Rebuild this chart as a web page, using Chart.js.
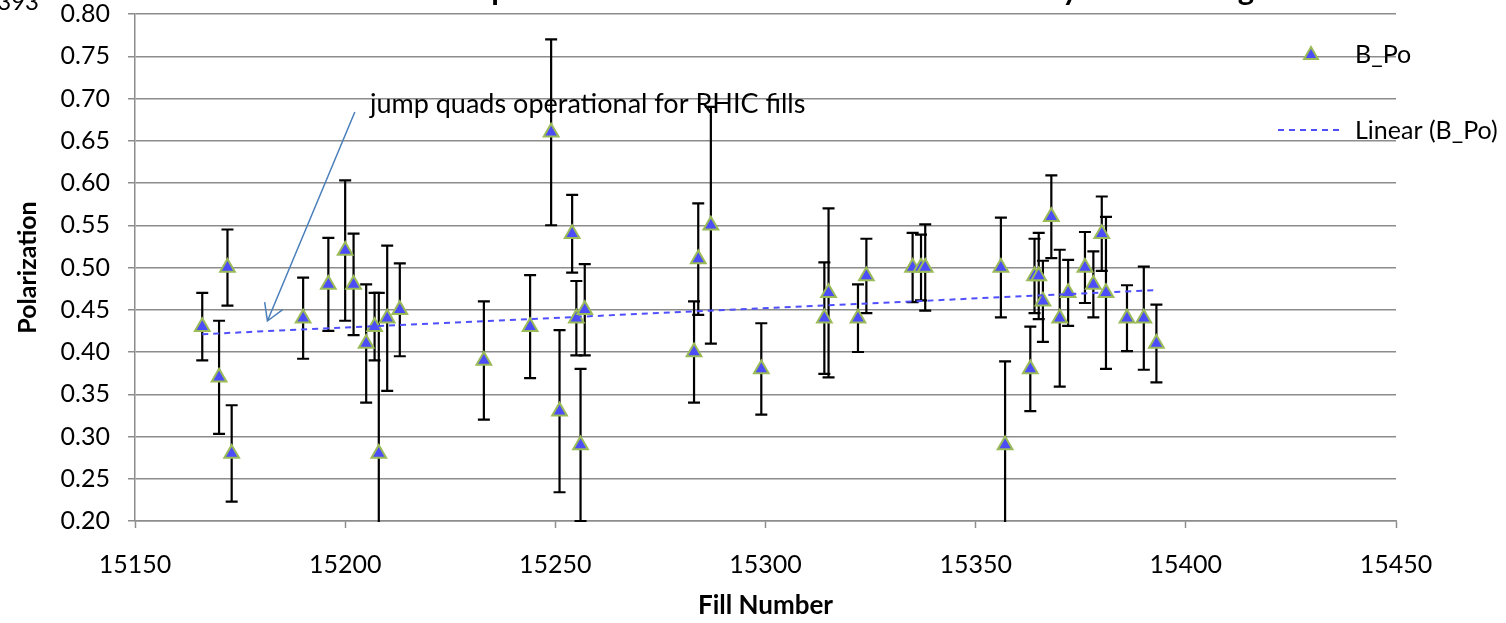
<!DOCTYPE html>
<html>
<head>
<meta charset="utf-8">
<script src="https://cdn.jsdelivr.net/npm/chart.js@4.4.1/dist/chart.umd.min.js"></script>
<style>
html, body { margin: 0; padding: 0; background: #fff; overflow: hidden; }
#wrap { position: absolute; left: 0; top: -50px; width: 1506px; height: 673px; }
</style>
</head>
<body>
<div id="wrap"><canvas id="polChart"></canvas></div>
<script>
// fill numbers and measured polarization (B_Po) with error
var fills = [15166, 15170, 15172, 15173, 15190, 15196, 15200, 15202, 15205, 15207,
             15208, 15210, 15213, 15233, 15244, 15249, 15251, 15254, 15255, 15256,
             15257, 15283, 15284, 15287, 15299, 15314, 15315, 15322, 15324, 15335,
             15337, 15338, 15356, 15357, 15363, 15364, 15365, 15366, 15368, 15370,
             15372, 15376, 15378, 15380, 15381, 15386, 15390, 15393];
var pol = [0.43, 0.37, 0.50, 0.28, 0.44, 0.48, 0.52, 0.48, 0.41, 0.43,
           0.28, 0.44, 0.45, 0.39, 0.43, 0.66, 0.33, 0.54, 0.44, 0.29,
           0.45, 0.40, 0.51, 0.55, 0.38, 0.44, 0.47, 0.44, 0.49, 0.50,
           0.50, 0.50, 0.50, 0.29, 0.38, 0.49, 0.49, 0.46, 0.56, 0.44,
           0.47, 0.50, 0.48, 0.54, 0.47, 0.44, 0.44, 0.41];
var polErr = [0.040, 0.067, 0.045, 0.057, 0.048, 0.055, 0.083, 0.060, 0.070, 0.040,
              0.190, 0.086, 0.055, 0.070, 0.061, 0.110, 0.096, 0.046, 0.044, 0.090,
              0.054, 0.060, 0.066, 0.140, 0.054, 0.066, 0.100, 0.040, 0.044, 0.041,
              0.039, 0.051, 0.059, 0.099, 0.050, 0.044, 0.051, 0.048, 0.049, 0.081,
              0.039, 0.042, 0.039, 0.044, 0.090, 0.039, 0.061, 0.046];

var seriesName = 'B_Po';
var trendName = 'Linear (B_Po)';
var xMin = 15150, xMax = 15450, xStep = 50;
var yMin = 0.20, yMax = 0.80, yStep = 0.05;
var titleHead = 'Blue AGS Extraction ';
var titleTail = 'polarization vs RHIC Fill Number sorted by Start Timing';
var cornerText = '15166-15393';
var noteText = 'jump quads operational for RHIC fills';
// arrow and note, in data units
var noteAt = { x: 15205.9, y: 0.6825 };
var arrowFrom = { x: 15202.3, y: 0.684 };
var arrowTo = { x: 15181.5, y: 0.4367 };

// least squares line, like the excel trendline
var n = fills.length, sx = 0, sy = 0, sxx = 0, sxy = 0;
for (var i = 0; i < n; i++) {
    sx += fills[i]; sy += pol[i];
    sxx += fills[i] * fills[i]; sxy += fills[i] * pol[i];
}
var slope = (n * sxy - sx * sy) / (n * sxx - sx * sx);
var icpt = (sy - slope * sx) / n;
var fMin = Math.min.apply(null, fills), fMax = Math.max.apply(null, fills);

var points = fills.map(function (f, i) { return { x: f, y: pol[i] }; });
var trend = [{ x: fMin, y: icpt + slope * fMin }, { x: fMax, y: icpt + slope * fMax }];

var markerFill = '#4c4cf8';
var markerEdge = '#9bbb59';
var trendColor = '#4f4fff';
var gridColor = '#8c8c8c';

Chart.defaults.font.family = 'Lato, "DejaVu Sans", sans-serif';
Chart.defaults.color = '#000';

var errorBars = {
    id: 'errorBars',
    beforeDatasetsDraw: function (chart) {
        var ctx = chart.ctx, xs = chart.scales.x, ys = chart.scales.y, a = chart.chartArea;
        ctx.save();
        ctx.beginPath();
        ctx.rect(a.left, a.top - 3, a.right - a.left, a.bottom - a.top + 4);
        ctx.clip();
        ctx.strokeStyle = '#000';
        ctx.lineWidth = 2.2;
        for (var i = 0; i < fills.length; i++) {
            var x = xs.getPixelForValue(fills[i]);
            var yT = ys.getPixelForValue(pol[i] + polErr[i]);
            var yB = ys.getPixelForValue(pol[i] - polErr[i]);
            ctx.beginPath();
            ctx.moveTo(x, yT); ctx.lineTo(x, yB);
            ctx.moveTo(x - 6, yT); ctx.lineTo(x + 6, yT);
            ctx.moveTo(x - 6, yB); ctx.lineTo(x + 6, yB);
            ctx.stroke();
        }
        ctx.restore();
    }
};

var extras = {
    id: 'extras',
    afterDraw: function (chart) {
        var ctx = chart.ctx, xs = chart.scales.x, ys = chart.scales.y, a = chart.chartArea;
        ctx.save();

        // title, mostly cut off at the top of the picture
        ctx.font = 'bold 31px Lato';
        ctx.fillStyle = '#000';
        ctx.textAlign = 'left';
        ctx.textBaseline = 'middle';
        var tx = 500 - ctx.measureText(titleHead).width - ctx.measureText('p').width / 2;
        ctx.fillText(titleHead + titleTail, tx, a.top - 24);

        // note + arrow
        ctx.font = '27px Lato';
        ctx.textBaseline = 'alphabetic';
        ctx.fillText(noteText, xs.getPixelForValue(noteAt.x), ys.getPixelForValue(noteAt.y));

        var x0 = xs.getPixelForValue(arrowFrom.x), y0 = ys.getPixelForValue(arrowFrom.y);
        var x1 = xs.getPixelForValue(arrowTo.x), y1 = ys.getPixelForValue(arrowTo.y);
        var ang = Math.atan2(y0 - y1, x0 - x1);
        ctx.strokeStyle = '#4a7ebb';
        ctx.lineWidth = 1.5;
        ctx.beginPath();
        ctx.moveTo(x0, y0); ctx.lineTo(x1, y1);
        ctx.moveTo(x1 + 19 * Math.cos(ang - 0.54), y1 + 19 * Math.sin(ang - 0.54));
        ctx.lineTo(x1, y1);
        ctx.lineTo(x1 + 19 * Math.cos(ang + 0.54), y1 + 19 * Math.sin(ang + 0.54));
        ctx.stroke();

        // legend (sits over the plot like in excel)
        var lx = a.right - 85, ly1 = a.top + 41, ly2 = a.top + 116;
        ctx.fillStyle = markerFill;
        ctx.strokeStyle = markerEdge;
        ctx.lineWidth = 2;
        ctx.beginPath();
        ctx.moveTo(lx, ly1 - 8);
        ctx.lineTo(lx + 6.9, ly1 + 4);
        ctx.lineTo(lx - 6.9, ly1 + 4);
        ctx.closePath();
        ctx.fill(); ctx.stroke();

        ctx.strokeStyle = trendColor;
        ctx.setLineDash([6, 5]);
        ctx.beginPath();
        ctx.moveTo(a.right - 118, ly2); ctx.lineTo(a.right - 55, ly2);
        ctx.stroke();
        ctx.setLineDash([]);

        ctx.fillStyle = '#000';
        ctx.font = '25px Lato';
        ctx.textBaseline = 'middle';
        ctx.fillText(seriesName, a.right - 41, ly1);
        ctx.fillText(trendName, a.right - 41, ly2 + 1);

        // leftover text in the top corner
        ctx.font = '24px Lato';
        ctx.textAlign = 'right';
        ctx.textBaseline = 'alphabetic';
        ctx.fillText(cornerText, 39, a.top - 4);
        ctx.restore();
    }
};

var ctx = document.getElementById('polChart').getContext('2d');
var polChart = new Chart(ctx, {
    type: 'scatter',
    data: {
        datasets: [{
            label: trendName,
            type: 'line',
            data: trend,
            borderColor: trendColor,
            borderWidth: 2,
            borderDash: [6, 5],
            pointRadius: 0,
            fill: false,
            order: 0
        }, {
            label: seriesName,
            data: points,
            pointStyle: 'triangle',
            pointRadius: 8.5,
            pointHoverRadius: 8.5,
            backgroundColor: markerFill,
            borderColor: markerEdge,
            borderWidth: 2,
            order: 1
        }]
    },
    options: {
        responsive: true,
        maintainAspectRatio: false,
        animation: false,
        events: [],
        layout: { padding: { left: 0, right: 110, top: 64, bottom: 0 } },
        plugins: {
            legend: { display: false },
            tooltip: { enabled: false },
            title: { display: false }
        },
        scales: {
            x: {
                type: 'linear',
                min: xMin, max: xMax,
                afterFit: function (s) { s.height = 102; },
                border: { color: gridColor, width: 1.5 },
                grid: { drawOnChartArea: false, drawTicks: true, tickLength: 7, tickColor: gridColor, tickWidth: 1.5 },
                ticks: {
                    stepSize: xStep,
                    padding: 22,
                    font: { size: 25 },
                    callback: function (v) { return String(v); }
                },
                title: {
                    display: true,
                    text: 'Fill Number',
                    font: { size: 26, weight: 'bold' },
                    padding: { top: 0, bottom: 2 }
                }
            },
            y: {
                min: yMin, max: yMax,
                afterFit: function (s) { s.width = 135; },
                border: { color: gridColor, width: 1.5 },
                grid: { color: gridColor, lineWidth: 1.5, tickLength: 7, tickColor: gridColor },
                ticks: {
                    stepSize: yStep,
                    padding: 18,
                    font: { size: 25 },
                    callback: function (v) { return v.toFixed(2); }
                },
                title: {
                    display: true,
                    text: 'Polarization',
                    font: { size: 25, weight: 'bold' },
                    padding: { top: 13, bottom: 0 }
                }
            }
        }
    },
    plugins: [errorBars, extras]
});
</script>
</body>
</html>
